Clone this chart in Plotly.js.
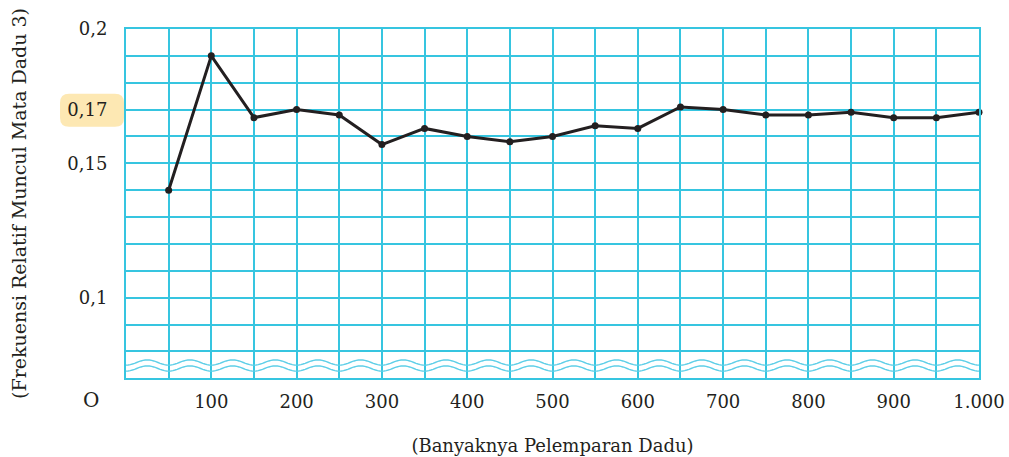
<!DOCTYPE html>
<html>
<head>
<meta charset="utf-8">
<script src="https://cdn.plot.ly/plotly-3.0.1.min.js"></script>
<style>html,body{margin:0;padding:0;background:#fff;}#chart{width:1009px;height:457px;}</style>
</head>
<body>
<div id="chart"></div>
<script>
// Data
const throwsCount = [50,100,150,200,250,300,350,400,450,500,550,600,650,700,750,800,850,900,950,1000];
const relFreq = [0.140,0.190,0.167,0.170,0.168,0.157,0.163,0.160,0.158,0.160,0.164,0.163,0.171,0.170,0.168,0.168,0.169,0.167,0.167,0.169];
const xGridVals = [0,50,100,150,200,250,300,350,400,450,500,550,600,650,700,750,800,850,900,950,1000];
const xLabelVals = [100,200,300,400,500,600,700,800,900,1000];
const xLabelText = ['100','200','300','400','500','600','700','800','900','1.000'];
const yGridVals = [0.08,0.09,0.10,0.11,0.12,0.13,0.14,0.15,0.16,0.17,0.18,0.19,0.20];
const yLabelVals = [0.10,0.15,0.17,0.20];
const yLabelText = ['0,1','0,15','0,17','0,2'];

function labelsFor(gridVals, labelVals, labelText){
  return gridVals.map(v => {
    const i = labelVals.findIndex(l => Math.abs(l - v) < 1e-9);
    return i >= 0 ? labelText[i] : '';
  });
}

const grid = '#36c5e0';
const waveCol = '#5fcfe8';
const ink = '#231f20';
const FONT = 'DejaVu Serif, Liberation Serif, serif';

// wavy break lines (decoration)
function wavePath(yc, amp){
  let d = '';
  for (let i = 0; i <= 400; i++){
    const x = i * 2.5;
    const y = yc + amp * Math.cos(2*Math.PI*x/50);
    d += (i===0 ? 'M' : 'L') + x.toFixed(2) + ',' + y.toFixed(5);
  }
  return d;
}
const H = 348.7;
const shapes = [
  {type:'path', xref:'x', yref:'paper', path: wavePath((378-362.5)/H, -2.6/H), line:{color:waveCol, width:1.4}, layer:'above'},
  {type:'path', xref:'x', yref:'paper', path: wavePath((378-368.5)/H, -2.6/H), line:{color:waveCol, width:1.4}, layer:'above'}
];
// rounded highlight box behind the 0,17 label
(function(){
  const W = 853.5;
  const x0 = (60-126)/W, x1 = (124-126)/W, y0 = (378-127)/H, y1 = (378-94)/H;
  const rx = 9/W, ry = 9/H;
  const p = `M${x0+rx},${y0} L${x1-rx},${y0} Q${x1},${y0} ${x1},${y0+ry} L${x1},${y1-ry} Q${x1},${y1} ${x1-rx},${y1} L${x0+rx},${y1} Q${x0},${y1} ${x0},${y1-ry} L${x0},${y0+ry} Q${x0},${y0} ${x0+rx},${y0} Z`;
  shapes.push({type:'path', xref:'paper', yref:'paper', path:p, fillcolor:'#fde8b3', line:{width:0}, layer:'below'});
})();

const trace = {
  x: throwsCount, y: relFreq, type:'scatter', mode:'lines+markers',
  line:{color:ink, width:3}, marker:{color:ink, size:7},
  cliponaxis:false, hoverinfo:'skip'
};

const layout = {
  width:1009, height:457,
  margin:{l:126, r:29.5, t:29.3, b:79},
  paper_bgcolor:'#ffffff', plot_bgcolor:'rgba(0,0,0,0)',
  showlegend:false,
  font:{family:FONT, color:ink, size:18},
  xaxis:{
    range:[0,1000], tickmode:'array', tickvals:xGridVals, ticktext:labelsFor(xGridVals, xLabelVals, xLabelText),
    showgrid:true, gridcolor:grid, gridwidth:2,
    showline:true, mirror:true, linecolor:grid, linewidth:2,
    ticks:'', ticklabelstandoff:6, zeroline:false,
    tickfont:{family:FONT, size:18, color:ink},
    title:{text:'(Banyaknya Pelemparan Dadu)', font:{family:FONT, size:18, color:ink}, standoff:29},
    automargin:false
  },
  yaxis:{
    range:[0.0701,0.2], tickmode:'array', tickvals:yGridVals, ticktext:labelsFor(yGridVals, yLabelVals, yLabelText),
    showgrid:true, gridcolor:grid, gridwidth:2,
    showline:true, mirror:true, linecolor:grid, linewidth:2,
    ticks:'', ticklabelstandoff:13, zeroline:false,
    tickfont:{family:FONT, size:18, color:ink},
    title:{text:'(Frekuensi Relatif Muncul Mata Dadu 3)', font:{family:FONT, size:19, color:ink}, standoff:36},
    automargin:false
  },
  shapes: shapes,
  annotations:[
    {text:'O', xref:'paper', yref:'paper', x:(91-126)/853.5, y:0, yanchor:'top', xanchor:'center', yshift:-8, showarrow:false, font:{family:FONT, size:20, color:ink}}
  ]
};

Plotly.newPlot('chart', [trace], layout, {displayModeBar:false, staticPlot:true});
</script>
</body>
</html>
